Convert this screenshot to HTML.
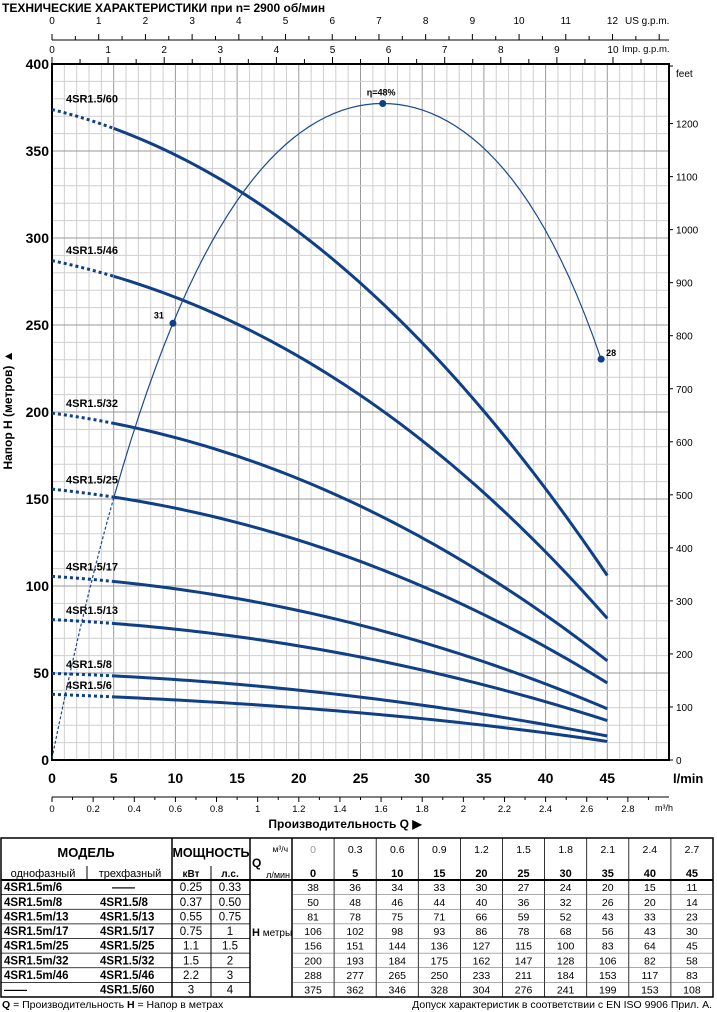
<!DOCTYPE html>
<html><head><meta charset="utf-8"><style>
html,body{margin:0;padding:0;background:#fff;}
svg{display:block;font-family:"Liberation Sans",Arial,sans-serif;}
</style></head><body>
<svg id="chart" width="717" height="1012" viewBox="0 0 717 1012" xmlns="http://www.w3.org/2000/svg">
<text x="2" y="12" font-size="12" font-weight="bold">ТЕХНИЧЕСКИЕ ХАРАКТЕРИСТИКИ при n= 2900 об/мин</text>
<g id="grid"></g>
<g id="axes"></g>
<g id="curves"></g>
<g id="eff"></g>
<text transform="translate(12,410) rotate(-90)" text-anchor="middle" font-size="12" font-weight="bold">Напор Н  (метров)  ▲</text>
<text x="345" y="828" text-anchor="middle" font-size="12" font-weight="bold">Производительность Q  ▶</text>
<g id="table"></g>
<text x="2" y="1008" font-size="10.5"><tspan font-weight="bold">Q</tspan> = Производительность   <tspan font-weight="bold">H</tspan> = Напор в метрах</text>
<text x="712" y="1008" font-size="10.5" text-anchor="end">Допуск характеристик в соответствии с EN ISO 9906 Прил.  А.</text>
</svg>
<script>
const flowLmin = [0,5,10,15,20,25,30,35,40,45];
const flowM3h = ['0','0.3','0.6','0.9','1.2','1.5','1.8','2.1','2.4','2.7'];
const pumpNames = ['4SR1.5/6','4SR1.5/8','4SR1.5/13','4SR1.5/17','4SR1.5/25','4SR1.5/32','4SR1.5/46','4SR1.5/60'];
const head6  = [38,36,34,33,30,27,24,20,15,11];
const head8  = [50,48,46,44,40,36,32,26,20,14];
const head13 = [81,78,75,71,66,59,52,43,33,23];
const head17 = [106,102,98,93,86,78,68,56,43,30];
const head25 = [156,151,144,136,127,115,100,83,64,45];
const head32 = [200,193,184,175,162,147,128,106,82,58];
const head46 = [288,277,265,250,233,211,184,153,117,83];
const head60 = [375,362,346,328,304,276,241,199,153,108];
const effQ   = [0,1.7,5.1,6.7,9.8,12.2,15.3,18.5,21.6,26.8,30.9,33.9,37,40.1,42.6,44.5];
const effPct = [0,7.5,19.3,24.3,31.6,36.8,41.3,44.3,46.7,48,47.2,45.5,42.5,38.3,34.3,29];
const effMarkQ = [9.8,26.8,44.5];
const effMarkLabel = ['31','η=48%','28'];
const yTicks = [0,50,100,150,200,250,300,350,400];
const feetTicks = [0,100,200,300,400,500,600,700,800,900,1000,1100,1200];
const usTicks = [0,1,2,3,4,5,6,7,8,9,10,11,12];
const impTicks = [0,1,2,3,4,5,6,7,8,9,10];
const m3hTicks = [0,0.2,0.4,0.6,0.8,1,1.2,1.4,1.6,1.8,2,2.2,2.4,2.6,2.8];
const modelsSingle = ['4SR1.5m/6','4SR1.5m/8','4SR1.5m/13','4SR1.5m/17','4SR1.5m/25','4SR1.5m/32','4SR1.5m/46','——'];
const modelsThree = ['——','4SR1.5/8','4SR1.5/13','4SR1.5/17','4SR1.5/25','4SR1.5/32','4SR1.5/46','4SR1.5/60'];
const powerKw = ['0.25','0.37','0.55','0.75','1.1','1.5','2.2','3'];
const powerHp = ['0.33','0.50','0.75','1','1.5','2','3','4'];

const NS='http://www.w3.org/2000/svg';
const X0=52,X1=669,Y0=760,Y1=64,QMAX=50,HMAX=400;
const X=q=>X0+q*(X1-X0)/QMAX;
const Y=h=>Y0-h*(Y0-Y1)/HMAX;
const EFF_SCALE=378/48;
function el(tag,attrs,parent,txt){const e=document.createElementNS(NS,tag);for(const k in attrs)e.setAttribute(k,attrs[k]);if(txt!==undefined)e.textContent=txt;parent.appendChild(e);return e;}
// least squares polynomial fit
function polyfit(xs,ys,deg){const n=deg+1;const A=[];for(let i=0;i<n;i++){A.push(new Array(n+1).fill(0));}
  xs.forEach((x,k)=>{for(let i=0;i<n;i++){for(let j=0;j<n;j++)A[i][j]+=Math.pow(x,i+j);A[i][n]+=ys[k]*Math.pow(x,i);}});
  for(let i=0;i<n;i++){let p=i;for(let r=i+1;r<n;r++)if(Math.abs(A[r][i])>Math.abs(A[p][i]))p=r;[A[i],A[p]]=[A[p],A[i]];
    for(let r=0;r<n;r++){if(r===i)continue;const f=A[r][i]/A[i][i];for(let c=i;c<=n;c++)A[r][c]-=f*A[i][c];}}
  return A.map((row,i)=>row[n]/row[i]);}
const pv=(c,x)=>c.reduce((s,a,i)=>s+a*Math.pow(x,i),0);
function fitPath(c,qa,qb,f){let d='';for(let k=0;k<=60;k++){const q=qa+(qb-qa)*k/60;d+=(k?' L':'M')+X(q).toFixed(2)+','+Y(f(pv(c,q))).toFixed(2);}return d;}

const grid=document.getElementById('grid');
for(let q=0;q<=QMAX;q++){const l=el('line',{x1:X(q),x2:X(q),y1:Y1,y2:Y0,stroke:q%5==0?'#9a9a9a':'#cfcfcf','stroke-width':1},grid);}
for(let h=0;h<=HMAX;h+=10){const l=el('line',{x1:X0,x2:X1,y1:Y(h),y2:Y(h),stroke:h%50==0?'#9a9a9a':'#cfcfcf','stroke-width':1},grid);}

const ax=document.getElementById('axes');
el('rect',{x:X0,y:Y1,width:X1-X0,height:Y0-Y1,fill:'none',stroke:'#000','stroke-width':2},ax);
yTicks.forEach(v=>{const t=el('text',{x:49,y:Y(v)+5,'text-anchor':'end','font-size':14,'font-weight':'bold'},ax,String(v));});
feetTicks.forEach(v=>{const y=Y(v*0.3048);el('line',{x1:X1,x2:X1+4,y1:y,y2:y,stroke:'#000'},ax);const t=el('text',{x:676,y:y+4,'font-size':10},ax,String(v));});
el('line',{x1:X1,x2:X1+4,y1:Y1+2,y2:Y1+2,stroke:'#000'},ax);
el('text',{x:676,y:77,'font-size':10,},ax,'feet');
el('line',{x1:X0,x2:X1,y1:40,y2:40,stroke:'#000'},ax);
for(let g=0;g<=13;g+=0.5){const x=X(g*3.785);if(x>X1)break;el('line',{x1:x,x2:x,y1:g%1==0?34:36,y2:40,stroke:'#000'},ax);}
usTicks.forEach(g=>{const t=el('text',{x:X(g*3.785),y:24,'text-anchor':'middle','font-size':10},ax,String(g));});
el('text',{x:625,y:24,'font-size':10},ax,'US g.p.m.');
for(let g=0;g<=11;g+=0.5){const x=X(g*4.546);if(x>X1)break;el('line',{x1:x,x2:x,y1:g%1==0?57:59,y2:Y1,stroke:'#000'},ax);}
impTicks.forEach(g=>{const t=el('text',{x:X(g*4.546),y:53,'text-anchor':'middle','font-size':10},ax,String(g));});
el('text',{x:622,y:52,'font-size':9.5},ax,'Imp. g.p.m.');
flowLmin.forEach(q=>{const t=el('text',{x:X(q),y:783,'text-anchor':'middle','font-size':14,'font-weight':'bold'},ax,String(q));});
el('text',{x:673,y:783,'font-size':13,'font-weight':'bold'},ax,'l/min');
el('line',{x1:X0,x2:X1,y1:797,y2:797,stroke:'#000'},ax);
for(let i=0;i<=29;i++){const x=X(i*0.1*16.667);if(x>X1+1)break;el('line',{x1:x,x2:x,y1:797,y2:i%2==0?802:800,stroke:'#000'},ax);}
m3hTicks.forEach(v=>{const t=el('text',{x:X(v*16.667),y:812,'text-anchor':'middle','font-size':9.5},ax,String(v));});
el('text',{x:655,y:811,'font-size':9},ax,'m³/h');

const cv=document.getElementById('curves');
const heads=[head6,head8,head13,head17,head25,head32,head46,head60];
const COL='#0f3f87';
const id=v=>v;
heads.forEach((hs,i)=>{
  const c=polyfit(flowLmin,hs,3);
  const dash=el('path',{d:fitPath(c,0,5,id),fill:'none',stroke:COL,'stroke-width':3,'stroke-dasharray':'3 3'},cv);
  
  
  const p=el('path',{d:fitPath(c,5,45,id),fill:'none',stroke:COL,'stroke-width':3},cv);
  
  
  const t=el('text',{x:66,y:Y(hs[0])-5,'font-size':11,'font-weight':'bold'},cv,pumpNames[i]);
  
  
});

const ev=document.getElementById('eff');
const ec=polyfit(effQ,effPct,5);
const toH=v=>v*EFF_SCALE;
const ed=el('path',{d:fitPath(ec,0,5.1,toH),fill:'none',stroke:'#1a4a90','stroke-width':1.2,'stroke-dasharray':'3 2'},ev);


const es=el('path',{d:fitPath(ec,5.1,effQ[effQ.length-1],toH),fill:'none',stroke:'#1a4a90','stroke-width':1.2},ev);


effMarkQ.forEach((q,i)=>{
  const x=X(q),y=Y(toH(pv(ec,q)));
  const c=el('circle',{cx:x,cy:y,r:3.5,fill:'#0f3f87'},ev);
  
  
  const pos=i==0?[x-19,y-5]:i==1?[x-16,y-8]:[x+5,y-3];
  const t=el('text',{x:pos[0],y:pos[1],'font-size':9,'font-weight':'bold'},ev,effMarkLabel[i]);
  
  
});

const tb=document.getElementById('table');
const TT=838,TH=880,TB=997,TL=1,TR=713;
const rowH=(TB-TH)/8;
const dc=i=>292+i*(TR-292)/10;
el('rect',{x:TL,y:TT,width:TR-TL,height:TB-TT,fill:'none',stroke:'#000','stroke-width':1.5},tb);
el('line',{x1:TL,x2:TR,y1:TH,y2:TH,stroke:'#000','stroke-width':2},tb);
[172,250,292].forEach(x=>el('line',{x1:x,x2:x,y1:TT,y2:TB,stroke:'#000','stroke-width':1.5},tb));
el('line',{x1:211,x2:211,y1:TH,y2:TB,stroke:'#000'},tb);
el('line',{x1:211,x2:211,y1:866,y2:TH,stroke:'#000'},tb);
el('line',{x1:87,x2:87,y1:866,y2:TH,stroke:'#000'},tb);
for(let i=1;i<10;i++)el('line',{x1:dc(i),x2:dc(i),y1:TT,y2:TB,stroke:'#000','stroke-width':0.8},tb);
for(let r=1;r<8;r++){const y=TH+r*rowH;el('line',{x1:TL,x2:250,y1:y,y2:y,stroke:'#000','stroke-width':0.8},tb);el('line',{x1:292,x2:TR,y1:y,y2:y,stroke:'#555','stroke-width':0.6},tb);}
el('text',{x:86,y:857,'text-anchor':'middle','font-size':13,'font-weight':'bold'},tb,'МОДЕЛЬ');
el('text',{x:43,y:877,'text-anchor':'middle','font-size':11},tb,'однофазный');
el('text',{x:130,y:877,'text-anchor':'middle','font-size':11},tb,'трехфазный');
el('text',{x:211,y:857,'text-anchor':'middle','font-size':12.5,'font-weight':'bold'},tb,'МОЩНОСТЬ');
el('text',{x:191,y:877,'text-anchor':'middle','font-size':10,'font-weight':'bold'},tb,'кВт');
el('text',{x:230,y:877,'text-anchor':'middle','font-size':10,'font-weight':'bold'},tb,'л.с.');
el('text',{x:288,y:852,'text-anchor':'end','font-size':8.5},tb,'м³/ч');
el('text',{x:252,y:867,'font-size':12,'font-weight':'bold'},tb,'Q');
el('text',{x:290,y:878,'text-anchor':'end','font-size':9},tb,'л/мин');
el('text',{x:252,y:936,'font-size':10},tb,'').innerHTML='<tspan font-weight="bold" font-size="11">H</tspan> метры';
flowM3h.forEach((v,i)=>{const t=el('text',{x:(dc(i)+dc(i+1))/2,y:853,'text-anchor':'middle','font-size':10.5,fill:i==0?'#999':'#000'},tb,v);});
flowLmin.forEach((v,i)=>{const t=el('text',{x:(dc(i)+dc(i+1))/2,y:877,'text-anchor':'middle','font-size':11,'font-weight':'bold'},tb,String(v));});
for(let r=0;r<8;r++){
  const y=TH+r*rowH+rowH-3.5;
  el('text',{x:4,y:y,'font-size':11.5,'font-weight':'bold'},tb,modelsSingle[r]);
  el('text',{x:modelsThree[r]=='——'?112:100,y:y,'font-size':11.5,'font-weight':'bold'},tb,modelsThree[r]);
  el('text',{x:191,y:y,'text-anchor':'middle','font-size':11.5},tb,powerKw[r]);
  el('text',{x:230,y:y,'text-anchor':'middle','font-size':11.5},tb,powerHp[r]);
  heads[r].forEach((v,i)=>{const t=el('text',{x:(dc(i)+dc(i+1))/2,y:y,'text-anchor':'middle','font-size':10.5},tb,String(v));});
}
</script>
</body></html>
